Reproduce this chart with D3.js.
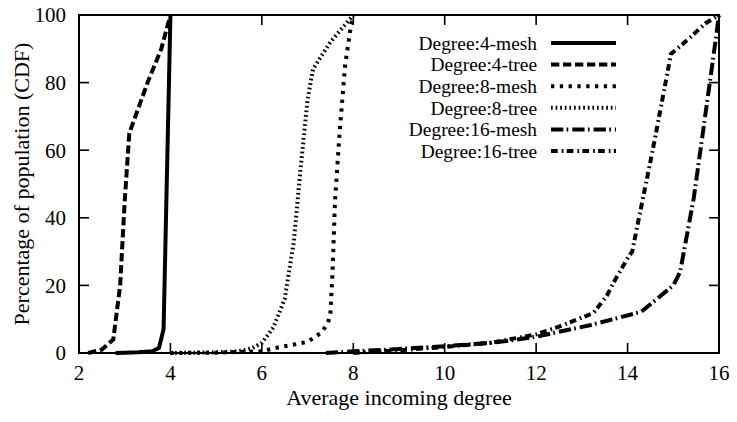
<!DOCTYPE html>
<html><head><meta charset="utf-8">
<script src="https://cdn.jsdelivr.net/npm/d3@7"></script>
<style>body{margin:0;background:#fff}svg{display:block}</style>
</head><body><svg id="c" width="737" height="422"></svg>
<script>
// ---- data ----
const seriesNames = ["Degree:4-mesh","Degree:4-tree","Degree:8-mesh","Degree:8-tree","Degree:16-mesh","Degree:16-tree"];
const mesh4 = [[2.8,0],[3.0,0.1],[3.3,0.2],[3.6,0.5],[3.75,1.5],[3.85,7],[4.0,100]];
const tree4 = [[2.2,0],[2.5,1],[2.75,4],[2.9,20],[3.0,45],[3.1,65],[3.5,80],[3.8,90],[4.0,100]];
const mesh8 = [[4.0,0],[5.0,0.1],[6.0,0.5],[6.3,1.5],[6.7,2.5],[7.0,3.3],[7.3,6],[7.45,9],[7.5,12],[7.55,25],[7.6,45],[7.7,65],[7.82,85],[7.95,97],[8.0,100]];
const tree8 = [[4.0,0],[5.0,0.2],[5.5,0.5],[5.8,1.5],[6.0,3],[6.25,7.5],[6.5,16],[6.7,33],[6.85,55],[7.0,75],[7.12,84],[7.5,92],[8.0,100]];
const mesh16 = [[7.4,0],[8.0,0.5],[9,1.2],[10,2],[11,3],[11.5,3.8],[12,4.8],[12.4,6],[13.2,8.3],[14.3,12.2],[15.0,20],[15.15,24],[15.45,46],[15.85,85],[16,100]];
const tree16 = [[8.0,0],[9,0.8],[10,1.8],[11,3],[12,5.5],[12.5,7.8],[13.25,11.8],[13.55,17],[13.7,21],[14.0,28],[14.1,30],[14.55,60],[14.95,88.5],[15.3,92.5],[15.7,97.5],[16,100]];
const seriesData = [mesh4, tree4, mesh8, tree8, mesh16, tree16];
const xTicks = [2,4,6,8,10,12,14,16];
const yTicks = [0,20,40,60,80,100];
const xTitle = "Average incoming degree";
const yTitle = "Percentage of population (CDF)";

// ---- styles ----
const dashes = [null, "8.3,3.7", "3.3,5.5", "1.7,2.9", "12.3,3.3,1.7,4", "6.7,4,1.7,3.3"];

const svg = d3.select("#c");
const L = 79, R = 719, T = 15, B = 353;
const x = d3.scaleLinear().domain([2,16]).range([L,R]);
const y = d3.scaleLinear().domain([0,100]).range([B,T]);
const FS = 21;

function txt(sel){ return sel.style("font-family","'Liberation Serif'").attr("fill","#000"); }

// frame
svg.append("rect").attr("x",L).attr("y",T).attr("width",R-L).attr("height",B-T)
  .attr("fill","none").attr("stroke","#000").attr("stroke-width",2);

// ticks (mirrored, inward)
const tl = 10;
xTicks.forEach(t=>{
  if (t>2 && t<16) {
    svg.append("line").attr("x1",x(t)).attr("x2",x(t)).attr("y1",B).attr("y2",B-tl).attr("stroke","#000").attr("stroke-width",1.6);
    svg.append("line").attr("x1",x(t)).attr("x2",x(t)).attr("y1",T).attr("y2",T+tl).attr("stroke","#000").attr("stroke-width",1.6);
  }
  txt(svg.append("text")).attr("x",x(t)).attr("y",B+27).attr("text-anchor","middle").attr("font-size",FS).text(t);
});
yTicks.forEach(t=>{
  if (t>0 && t<100) {
    svg.append("line").attr("x1",L).attr("x2",L+tl).attr("y1",y(t)).attr("y2",y(t)).attr("stroke","#000").attr("stroke-width",1.6);
    svg.append("line").attr("x1",R).attr("x2",R-tl).attr("y1",y(t)).attr("y2",y(t)).attr("stroke","#000").attr("stroke-width",1.6);
  }
  txt(svg.append("text")).attr("x",L-13).attr("y",y(t)).attr("dy","0.35em").attr("text-anchor","end").attr("font-size",FS).text(t);
});

// titles
txt(svg.append("text")).attr("x",(L+R)/2).attr("y",405).attr("text-anchor","middle").attr("font-size",22).text(xTitle);
txt(svg.append("text")).attr("transform","translate(29,"+((T+B)/2)+") rotate(-90)").attr("text-anchor","middle").attr("font-size",22).text(yTitle);

// lines
const line = d3.line().x(d=>x(d[0])).y(d=>y(d[1]));
seriesData.forEach((s,i)=>{
  svg.append("path").attr("d",line(s)).attr("fill","none").attr("stroke","#000")
    .attr("stroke-width",4).attr("stroke-dasharray",dashes[i]).attr("stroke-linejoin","miter");
});

// legend
seriesNames.forEach((n,i)=>{
  const ly = 43 + i*21.6;
  txt(svg.append("text")).attr("x",537).attr("y",ly).attr("dy","0.35em").attr("text-anchor","end").attr("font-size",19.4).text(n);
  svg.append("line").attr("x1",551).attr("x2",616).attr("y1",ly).attr("y2",ly).attr("stroke","#000")
    .attr("stroke-width",4).attr("stroke-dasharray",dashes[i]);
});
</script></body></html>
